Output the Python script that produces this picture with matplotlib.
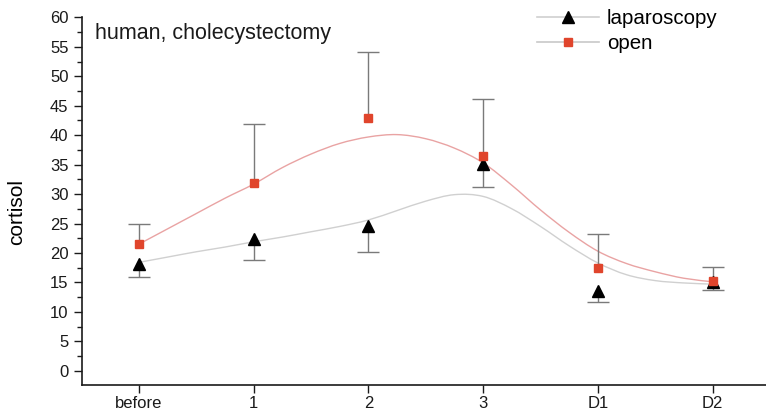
import numpy as np
import matplotlib.pyplot as plt
from matplotlib.lines import Line2D
from matplotlib.path import Path
from matplotlib.patches import PathPatch

plt.rcParams['font.family'] = ['Liberation Sans', 'DejaVu Sans']

# time points
labels = ['before', '1', '2', '3', 'D1', 'D2']

# laparoscopy: mean and (downward) error
lap_mean = [18.2, 22.4, 24.5, 35.1, 13.6, 15.0]
lap_err = [2.3, 3.6, 4.3, 3.9, 1.9, 1.3]

# open: mean and (upward) error
open_mean = [21.5, 31.8, 43.0, 36.5, 17.5, 15.2]
open_err = [3.4, 10.1, 11.2, 9.7, 5.7, 2.4]

# fitted curves at quarter steps
fit_x = [0, 0.25, 0.5, 0.75, 1, 1.25, 1.5, 1.75, 2, 2.25, 2.5,
         2.75, 3, 3.25, 3.5, 3.75, 4, 4.25, 4.5, 4.75, 5]
fit_open = [21.5, 24.1, 26.7, 29.3, 31.7, 34.5, 36.8, 38.6, 39.7, 40.1, 39.4,
            37.8, 35.3, 31.5, 27.3, 23.5, 20.3, 18.2, 16.8, 15.7, 15.1]
fit_lap = [18.4, 19.3, 20.2, 21.0, 21.9, 22.7, 23.6, 24.5, 25.6, 27.2, 28.8,
           29.9, 29.6, 27.5, 24.5, 21.2, 18.3, 16.3, 15.3, 14.9, 14.7]

red = '#e0452c'
red_line = '#e9a3a3'
gray_line = '#d0d0d0'
err_col = '#7a7a7a'


def smooth_path(xs, ys):
    # catmull-rom through the read points, drawn as bezier segments
    pts = np.column_stack([xs, ys]).astype(float)
    verts = [pts[0]]
    codes = [Path.MOVETO]
    for i in range(len(pts) - 1):
        p0 = pts[max(i - 1, 0)]
        p1 = pts[i]
        p2 = pts[i + 1]
        p3 = pts[min(i + 2, len(pts) - 1)]
        verts += [p1 + (p2 - p0) / 6, p2 - (p3 - p1) / 6, p2]
        codes += [Path.CURVE4] * 3
    return Path(verts, codes)


fig = plt.figure(figsize=(7.66, 4.12), dpi=100)
ax = fig.add_axes([0.1066, 0.0646, 0.8985, 0.893])

x = np.arange(len(labels))

ax.add_patch(PathPatch(smooth_path(fit_x, fit_lap), fc='none', ec=gray_line, lw=1.0, zorder=1))
ax.add_patch(PathPatch(smooth_path(fit_x, fit_open), fc='none', ec=red_line, lw=1.0, zorder=1))

lap_low = np.array(lap_mean) - np.array(lap_err)
open_high = np.array(open_mean) + np.array(open_err)

ax.errorbar(x, lap_mean, yerr=[lap_err, [0] * len(lap_err)], fmt='none',
            ecolor=err_col, elinewidth=1.0, capsize=0, zorder=2)
ax.errorbar(x, open_mean, yerr=[[0] * len(open_err), open_err], fmt='none',
            ecolor=err_col, elinewidth=1.0, capsize=0, zorder=2)
ax.plot(x, lap_low, '_', color=err_col, ms=16, mew=1.0, zorder=2)
ax.plot(x, open_high, '_', color=err_col, ms=16, mew=1.0, zorder=2)

ax.plot(x, lap_mean, '^', color='black', ms=8.5, ls='none', zorder=3)
ax.plot(x, open_mean, 's', color=red, ms=6, ls='none', zorder=4)

ax.set_xlim(-0.5, 5.5)
ax.set_ylim(-2.5, 60)
ax.set_xticks(x)
ax.set_xticklabels(labels)
ax.set_yticks(np.arange(0, 61, 5))
ax.set_yticks(np.arange(2.5, 60, 5), minor=True)
ax.tick_params(axis='both', which='major', labelsize=12, length=6, width=1, colors='#1a1a1a')
ax.tick_params(axis='y', which='minor', length=3.5, width=1, colors='#1a1a1a')
ax.tick_params(axis='x', pad=2)

for s in ['top', 'right']:
    ax.spines[s].set_visible(False)
for s in ['left', 'bottom']:
    ax.spines[s].set_linewidth(1.2)
    ax.spines[s].set_color('#1a1a1a')

ax.set_ylabel('cortisol', fontsize=15)
ax.yaxis.set_label_coords(-0.08, 0.47)

ax.text(0.019, 0.985, 'human, cholecystectomy', transform=ax.transAxes,
        fontsize=15.5, va='top', ha='left', color='#1a1a1a')

handles = [
    Line2D([], [], color=gray_line, lw=1.2, marker='^', mfc='black', mec='black', ms=8),
    Line2D([], [], color='#c8c8c8', lw=1.2, marker='s', mfc=red, mec=red, ms=6),
]
ax.legend(handles, ['laparoscopy', 'open'], loc='upper left',
          bbox_to_anchor=(537 / 766, 1 - 9 / 412), bbox_transform=fig.transFigure,
          frameon=False, fontsize=14.8, handlelength=3.0, handletextpad=0.4,
          labelspacing=0.3, borderpad=0, borderaxespad=0)

fig.savefig('out.png', dpi=100)
